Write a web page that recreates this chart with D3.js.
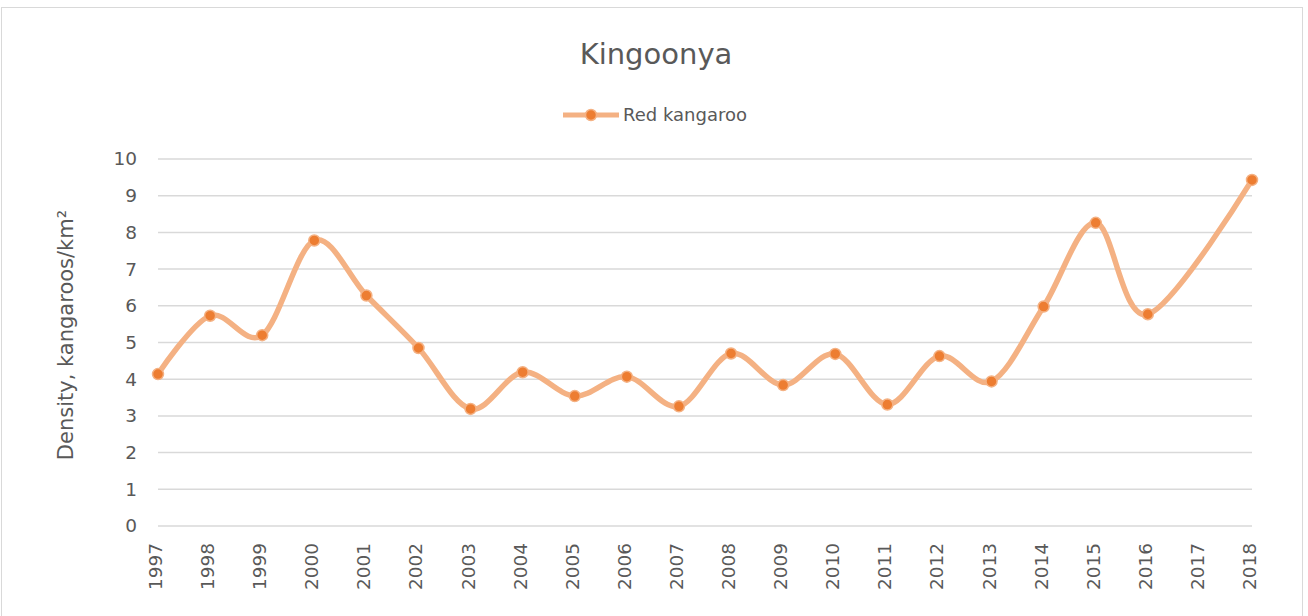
<!DOCTYPE html>
<html>
<head>
<meta charset="utf-8">
<script src="https://cdn.jsdelivr.net/npm/d3@7"></script>
<style>
  body { margin: 0; background: #fff; }
  svg { display: block; font-family: "DejaVu Sans", sans-serif; }
</style>
</head>
<body>
<svg id="chart" width="1308" height="616"></svg>
<script>
const years = ["1997", "1998", "1999", "2000", "2001", "2002", "2003", "2004", "2005", "2006", "2007",
  "2008", "2009", "2010", "2011", "2012", "2013", "2014", "2015", "2016", "2017", "2018"];
// 2017 has no survey value
const density = [4.14, 5.73, 5.2, 7.78, 6.28, 4.85, 3.19, 4.19, 3.54, 4.07, 3.26,
  4.7, 3.84, 4.69, 3.31, 4.63, 3.94, 5.98, 8.26, 5.77, null, 9.43];
const yTicks = [0, 1, 2, 3, 4, 5, 6, 7, 8, 9, 10];
const title = "Kingoonya";
const seriesName = "Red kangaroo";
const yLabel = "Density, kangaroos/km²";

const lineColor = "#F4B183";
const dotColor = "#ED7D31";
const textColor = "#595959";

const margin = { top: 159, right: 56, bottom: 90, left: 158 };
const width = 1308, height = 616;

const svg = d3.select("#chart");

svg.append("rect")
  .attr("x", 1.5).attr("y", 7.5)
  .attr("width", 1301).attr("height", 620)
  .attr("fill", "none")
  .attr("stroke", "#d9d9d9");

const x = d3.scalePoint()
  .domain(years)
  .range([margin.left, width - margin.right]);

const y = d3.scaleLinear()
  .domain([0, 10])
  .range([height - margin.bottom, margin.top]);

// gridlines
svg.append("g")
  .selectAll("line")
  .data(yTicks)
  .enter()
  .append("line")
  .attr("x1", x.range()[0])
  .attr("x2", x.range()[1])
  .attr("y1", d => y(d))
  .attr("y2", d => y(d))
  .attr("stroke", "#d9d9d9")
  .attr("stroke-width", 1.5);

const yAxis = svg.append("g")
  .attr("transform", `translate(${margin.left - 21},0)`)
  .call(d3.axisLeft(y).tickValues(yTicks).tickSize(0).tickPadding(0));
yAxis.select(".domain").remove();
yAxis.selectAll("text")
  .attr("fill", textColor)
  .style("font-size", "18.5px")
  .style("font-family", "'DejaVu Sans', sans-serif");

const xAxis = svg.append("g")
  .attr("transform", `translate(0,${y(0)})`)
  .call(d3.axisBottom(x).tickSize(0).tickPadding(0));
xAxis.select(".domain").remove();
xAxis.selectAll("text")
  .attr("transform", "rotate(-90)")
  .attr("x", -17)
  .attr("y", -3)
  .attr("dy", "0.35em")
  .attr("text-anchor", "end")
  .attr("fill", textColor)
  .style("font-size", "18.5px")
  .style("font-family", "'DejaVu Sans', sans-serif");

svg.append("text")
  .attr("transform", `translate(73,335) rotate(-90)`)
  .attr("text-anchor", "middle")
  .attr("fill", textColor)
  .style("font-size", "21px")
  .text(yLabel);

svg.append("text")
  .attr("x", 656)
  .attr("y", 64)
  .attr("text-anchor", "middle")
  .attr("fill", textColor)
  .style("font-size", "29px")
  .text(title);

// legend
const legend = svg.append("g");
legend.append("line")
  .attr("x1", 563).attr("x2", 619)
  .attr("y1", 115).attr("y2", 115)
  .attr("stroke", lineColor)
  .attr("stroke-width", 5);
legend.append("circle")
  .attr("cx", 591).attr("cy", 115).attr("r", 5.5)
  .attr("fill", dotColor)
  .attr("stroke", lineColor)
  .attr("stroke-width", 1.5);
legend.append("text")
  .attr("x", 623).attr("y", 115)
  .attr("dy", "0.35em")
  .attr("fill", textColor)
  .style("font-size", "18px")
  .text(seriesName);

const points = years.map((yr, i) => ({ yr, v: density[i] }))
  .filter(d => d.v !== null);

const line = d3.line()
  .x(d => x(d.yr))
  .y(d => y(d.v))
  .curve(d3.curveCatmullRom.alpha(0));

svg.append("path")
  .datum(points)
  .attr("d", line)
  .attr("fill", "none")
  .attr("stroke", lineColor)
  .attr("stroke-width", 5.5)
  .attr("stroke-linecap", "round");

svg.append("g")
  .selectAll("circle")
  .data(points)
  .enter()
  .append("circle")
  .attr("cx", d => x(d.yr))
  .attr("cy", d => y(d.v))
  .attr("r", 5.5)
  .attr("fill", dotColor)
  .attr("stroke", lineColor)
  .attr("stroke-width", 1.5);
</script>
</body>
</html>
